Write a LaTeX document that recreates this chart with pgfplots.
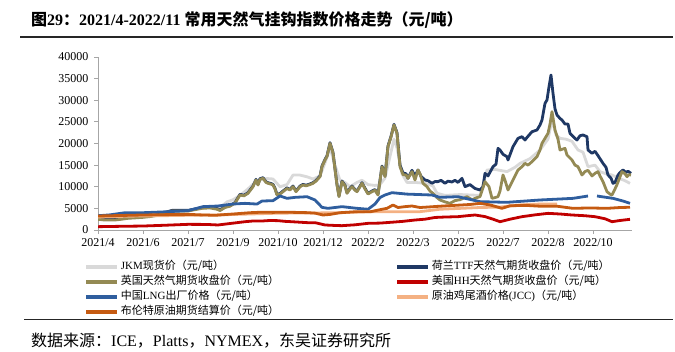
\documentclass[border=0pt]{standalone}
\usepackage{fontspec}
\setmainfont{Liberation Serif}
\newfontfamily\cjk{Noto Sans CJK SC}
\usepackage{pgfplots}
\pgfplotsset{compat=1.18}
\definecolor{cJKM}{HTML}{D9D9D9}
\definecolor{cTTF}{HTML}{1F3864}
\definecolor{cNBP}{HTML}{948A54}
\definecolor{cHH}{HTML}{C00000}
\definecolor{cLNG}{HTML}{2F5E9E}
\definecolor{cJCC}{HTML}{F4B183}
\definecolor{cBRT}{HTML}{C55A11}
\definecolor{axgray}{HTML}{A6A6A6}
\begin{document}
\begin{tikzpicture}
\useasboundingbox (0pt,0pt) rectangle (675pt,-351pt);
\node[anchor=west,inner sep=0pt,font=\fontsize{16}{18}\selectfont\bfseries] at (31pt,-20pt) {{\cjk 图}29{\cjk ：}2021/4-2022/11 {\cjk 常用天然气挂钩指数价格走势（元/吨）}};
\draw[line width=1.3pt,black!85] (20pt,-37pt) -- (673pt,-37pt);
\draw[line width=1.3pt,black!85] (24pt,-319.5pt) -- (673pt,-319.5pt);
\node[anchor=west,inner sep=0pt,font=\fontsize{16}{18}\selectfont] at (31pt,-341pt) {{\cjk 数据来源：}ICE{\cjk ，}Platts{\cjk ，}NYMEX{\cjk ，东吴证券研究所}};
\begin{axis}[
  at={(98pt,-230pt)}, anchor=south west,
  scale only axis, width=534pt, height=173pt,
  xmin=98, xmax=632, ymin=0, ymax=40000,
  axis x line*=bottom, axis y line*=left,
  axis line style={draw=axgray,line width=0.9pt,-},
  tick style={draw=axgray,line width=0.9pt},
  tick align=outside, major tick length=4pt,
  xtick={98,143,188,233,278,323,368,413,458,503,548,593},
  xticklabels={2021/4,2021/6,2021/7,2021/9,2021/10,2021/12,2022/2,2022/3,2022/5,2022/7,2022/8,2022/10},
  ytick={0,5000,10000,15000,20000,25000,30000,35000,40000},
  scaled y ticks=false,
  /pgf/number format/1000 sep={},
  /pgf/number format/assume math mode=true,
  ticklabel style={font=\fontsize{12}{14}\selectfont},
  yticklabel style={xshift=-2pt},
  xticklabel style={yshift=-1pt},
  unbounded coords=jump,
  every axis plot/.append style={line width=2.8pt, line join=round},
  legend columns=2,
  legend cell align=left,
  legend image code/.code={\draw[#1,line width=3.6pt] (0pt,0pt) -- (31pt,0pt);},
  legend style={at={(axis description cs:-0.026,-0.178)}, anchor=north west,
    draw=none, fill=none, inner sep=0pt, row sep=3.5pt,
    font=\fontsize{11}{13}\selectfont,
    nodes={inner xsep=2pt, inner ysep=0pt, text height=9pt, text depth=2.5pt},
    /tikz/every even column/.append style={column sep=114pt}},
]
% JKM
\addplot[cJKM] coordinates {(98,3000)(110,2900)(125,3000)(143,3300)(160,3800)(175,4200)(188,4500)(200,5000)(210,5300)(220,5200)(227,6500)(233,7000)(240,8000)(248,9500)(255,11000)(260,11600)(267,11900)(273,11800)(280,10000)(287,10500)(293,12700)(300,12700)(307,12300)(313,11800)(320,12500)(325,15500)(330,19000)(335,15000)(340,11500)(345,11000)(350,10000)(357,11000)(362,11500)(368,10500)(375,10300)(380,10500)(385,12000)(390,17000)(394,21000)(397,19000)(402,13000)(407,11000)(415,11000)(425,10800)(433,10200)(437,8500)(445,8000)(460,8200)(470,8100)(480,8000)(487,13870)(495,14000)(507,13500)(515,14500)(520,15400)(530,16500)(540,18500)(548,21000)(552,25430)(556,22000)(560,21200)(566,21000)(572,20500)(578,18500)(583,18000)(588,14640)(595,15000)(600,13500)(606,13000)(612,12720)(618,12000)(624,11500)(630,10790)};
\addlegendentry{JKM{\cjk 现货价（元/吨）}}
% TTF
\addplot[cTTF] coordinates {(98,2620)(105,2450)(115,2460)(122,2650)(128,2850)(135,2950)(143,3080)(150,3250)(158,3550)(165,4050)(172,4540)(180,4550)(188,4540)(195,4850)(202,5160)(210,5250)(217,4950)(220,4650)(225,5350)(230,5650)(235,6350)(240,8240)(244,8050)(248,8630)(253,10170)(256,11710)(258,10550)(260,11870)(263,12100)(266,11150)(268,10940)(271,10750)(273,10550)(275,9650)(277,8240)(280,8450)(283,9010)(287,9750)(290,9400)(293,10170)(296,9010)(300,10150)(303,10550)(306,10350)(310,10650)(313,10940)(316,11450)(320,12480)(322,14790)(325,16330)(327,17150)(330,20190)(333,17950)(335,14150)(337,10550)(339,7850)(342,11330)(345,10350)(347,8630)(350,9650)(352,10170)(355,9350)(357,9010)(360,10150)(362,10940)(365,9650)(368,8470)(372,9010)(375,9350)(378,8240)(382,14790)(385,12480)(388,19420)(391,21650)(394,24430)(397,22500)(400,15000)(403,13200)(406,13000)(408,11950)(412,13800)(415,12500)(418,13870)(421,12400)(425,11560)(428,11400)(432,10800)(435,11200)(438,11180)(441,11500)(445,10790)(448,11300)(452,11100)(455,11500)(458,11000)(462,11950)(465,10020)(470,10500)(475,9600)(480,9250)(483,10000)(485,13100)(488,12500)(493,14640)(496,15200)(498,18880)(500,18500)(503,17500)(507,16950)(508,16180)(513,19270)(518,21190)(522,21580)(525,20800)(527,21400)(532,22730)(537,23120)(540,24280)(542,25430)(545,29290)(547,30060)(549,33140)(551,35840)(553,31600)(555,28000)(557,26590)(560,25800)(562,25430)(565,24500)(568,24500)(570,22350)(575,21190)(577,20810)(580,21800)(583,21970)(587,21580)(588,18500)(592,17730)(595,18200)(598,17200)(603,15410)(606,14500)(608,12720)(611,12000)(613,10790)(615,11000)(618,12700)(620,13300)(623,13870)(626,13300)(628,13600)(631,13100)};
\addlegendentry{{\cjk 荷兰}TTF{\cjk 天然气期货收盘价（元/吨）}}
% NBP
\addplot[cNBP] coordinates {(98,2470)(105,2300)(115,2310)(122,2500)(128,2700)(135,2800)(143,2930)(150,3100)(158,3400)(165,3900)(172,4390)(180,4400)(188,4390)(195,4700)(202,5010)(210,5100)(217,4800)(220,4500)(225,5200)(230,5500)(235,6200)(240,8090)(244,7900)(248,8480)(253,10020)(256,11560)(258,10400)(260,11720)(263,11950)(266,11000)(268,10790)(271,10600)(273,10400)(275,9500)(277,8090)(280,8300)(283,8860)(287,9600)(290,9250)(293,10020)(296,8860)(300,10000)(303,10400)(306,10200)(310,10500)(313,10790)(316,11300)(320,12330)(322,14640)(325,16180)(327,17000)(330,20040)(333,17800)(335,14000)(337,10400)(339,7700)(342,11180)(345,10200)(347,8480)(350,9500)(352,10020)(355,9200)(357,8860)(360,10000)(362,10790)(365,9500)(368,8320)(372,8860)(375,9200)(378,8090)(382,14640)(385,12330)(388,19270)(391,21500)(394,24280)(397,22350)(400,14640)(403,12800)(406,12720)(408,11950)(412,13490)(415,11560)(418,13870)(420,13000)(423,10790)(427,10020)(430,9000)(433,8480)(437,7500)(440,6940)(445,6500)(450,6160)(455,6800)(460,7000)(467,7700)(472,7000)(477,7500)(480,7700)(485,11180)(489,10020)(492,7320)(495,7500)(498,7700)(500,9000)(503,12720)(505,11500)(508,9250)(513,11560)(518,13870)(522,14640)(525,15410)(528,15000)(532,15800)(537,16950)(540,18500)(542,20040)(545,21190)(548,22350)(550,24500)(552,27360)(555,23120)(558,21000)(560,18500)(565,18880)(567,17340)(572,16180)(575,15000)(578,14640)(582,12720)(585,13500)(588,13800)(592,12500)(595,13100)(598,13500)(600,12500)(603,11180)(607,8860)(610,8300)(612,8090)(615,9500)(617,10500)(620,12300)(622,13490)(625,13000)(627,12330)(629,12800)(631,12720)};
\addlegendentry{{\cjk 英国天然气期货收盘价（元/吨）}}
% HH
\addplot[cHH] coordinates {(98,770)(120,850)(143,920)(165,1100)(188,1310)(200,1300)(210,1250)(218,1160)(230,1500)(245,1920)(253,2080)(262,2080)(270,2200)(278,2160)(285,2000)(293,1900)(300,1800)(308,1690)(315,1700)(325,1160)(335,1050)(342,1000)(355,1200)(368,1540)(380,1600)(392,1800)(403,2000)(415,2310)(425,2500)(435,2900)(445,3000)(458,3080)(467,3300)(475,3470)(485,3100)(493,2500)(500,1920)(510,2500)(522,3080)(535,3500)(548,3850)(560,3700)(572,3470)(585,3300)(595,3080)(605,2600)(612,1920)(620,2200)(630,2470)};
\addlegendentry{{\cjk 美国}HH{\cjk 天然气期货收盘价（元/吨）}}
% LNG
\addplot[cLNG] coordinates {(98,3300)(110,3500)(125,4000)(143,4000)(165,4200)(188,4470)(203,5400)(218,5550)(233,6010)(245,6160)(257,6000)(262,6700)(273,6780)(280,7860)(287,7320)(295,7550)(307,7700)(315,6940)(322,5240)(328,5010)(342,5400)(357,5010)(368,4800)(375,6000)(380,7500)(385,8090)(392,8630)(407,8300)(432,8090)(440,7550)(458,7700)(480,6550)(507,6400)(540,6940)(573,7320)(588,7860)(592,nan)(597,7860)(613,7320)(623,6700)(630,6170)};
\addlegendentry{{\cjk 中国}LNG{\cjk 出厂价格（元/吨）}}
% JCC
\addplot[cJCC] coordinates {(98,3000)(130,3200)(160,3300)(188,3400)(220,3500)(250,3700)(280,3900)(310,3930)(340,4000)(370,4240)(400,4240)(420,4240)(440,4800)(460,5000)(480,5200)(500,5300)(520,5800)(540,6000)(557,6000)};
\addlegendentry{{\cjk 原油鸡尾酒价格}(JCC){\cjk （元/吨）}}
% Brent
\addplot[cBRT] coordinates {(98,3240)(120,3350)(143,3470)(165,3550)(188,3620)(200,3500)(215,3400)(233,3700)(250,4000)(260,4100)(273,4080)(290,4100)(307,4010)(315,3900)(323,3470)(330,3600)(340,4000)(357,4240)(370,4200)(380,4700)(387,5010)(393,5780)(398,5200)(405,5400)(412,5550)(420,5200)(427,5300)(440,5500)(455,5700)(470,5900)(480,6160)(490,5800)(502,5010)(510,5600)(525,5700)(540,5500)(557,5500)(573,5010)(590,5100)(607,5010)(620,5200)(630,5260)};
\addlegendentry{{\cjk 布伦特原油期货结算价（元/吨）}}
\end{axis}
\end{tikzpicture}
\end{document}
